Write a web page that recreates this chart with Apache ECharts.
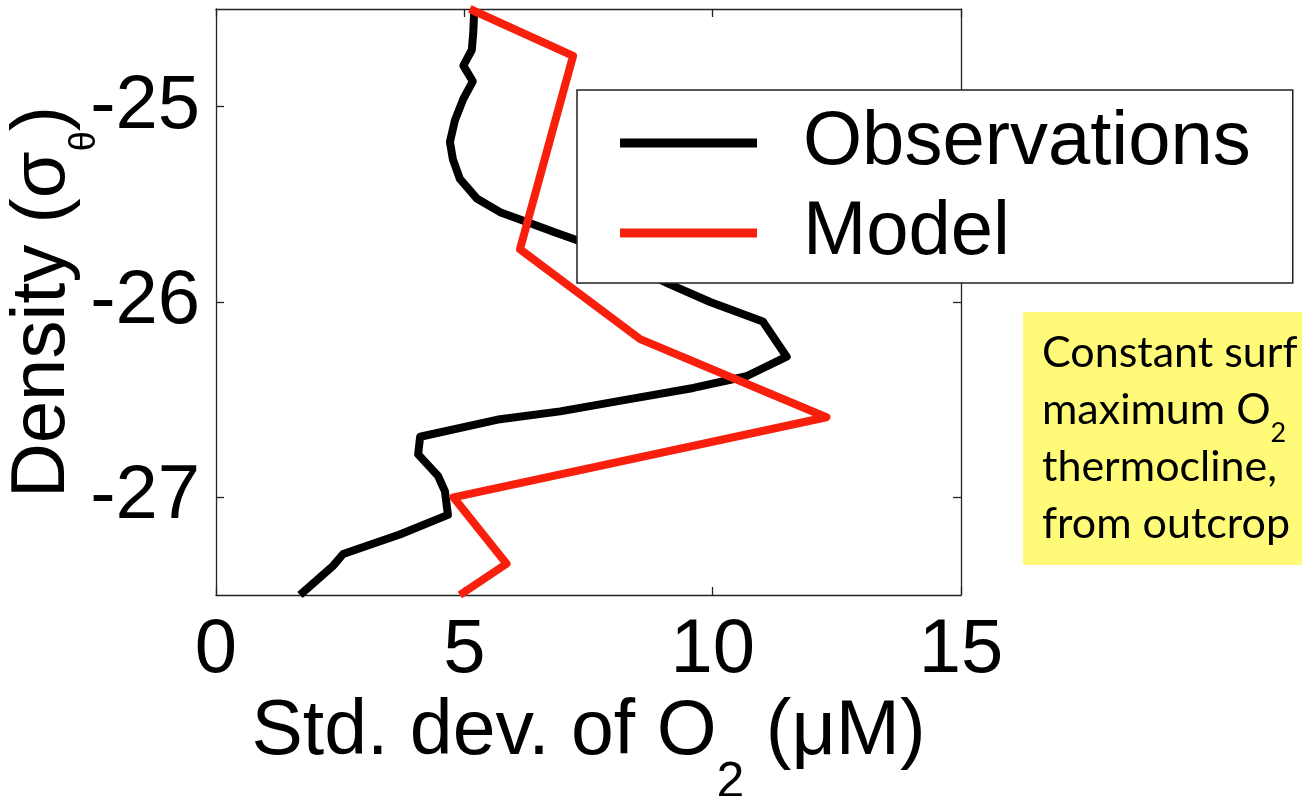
<!DOCTYPE html>
<html>
<head>
<meta charset="utf-8">
<script src="https://cdn.jsdelivr.net/npm/echarts@6/dist/echarts.min.js"></script>
<style>
  html, body { margin: 0; padding: 0; background: #fff; }
  #chart { width: 1302px; height: 796px; }
</style>
</head>
<body>
<div id="chart"></div>
<script>
// Std. dev. of O2 (µM) against potential density (sigma-theta)
const seriesNames = ['Observations', 'Model'];

// Observed profile: [std. dev. of O2, density]
const obsStd = [5.2, 5.18, 5.15, 4.98, 5.17, 4.98, 4.81, 4.71, 4.77, 4.91, 5.25, 5.72, 6.26, 6.79, 7.23,
  9.14, 9.95, 11.01, 11.49, 10.68, 9.61, 8.27, 6.93, 5.72, 4.11, 4.07, 4.47, 4.61, 4.67, 3.70, 2.56, 2.36, 1.69];
const obsDensity = [-24.5, -24.62, -24.71, -24.79, -24.87, -24.96, -25.07, -25.18, -25.27, -25.37, -25.47, -25.54, -25.59, -25.64, -25.68,
  -25.91, -26.0, -26.10, -26.28, -26.38, -26.44, -26.50, -26.56, -26.60, -26.69, -26.78, -26.89, -26.97, -27.09, -27.19, -27.29, -27.35, -27.5];

// Model profile
const modelStd = [5.11, 7.19, 6.12, 8.54, 12.29, 4.78, 5.85, 4.91];
const modelDensity = [-24.5, -24.74, -25.73, -26.19, -26.59, -27.0, -27.34, -27.5];

const xTicks = [0, 5, 10, 15];
const yTicks = [-27, -26, -25];

const noteLines = ['Constant surf', 'maximum O', 'thermocline,', 'from outcrop'];

const FONT = "'Liberation Sans', Arial, sans-serif";
const NOTE_FONT = "Lato, 'Open Sans', sans-serif";
const AXIS_COLOR = '#222';

const pair = (xs, ys) => xs.map((x, i) => [x, ys[i]]);

const axisLineStyle = { color: AXIS_COLOR, width: 1.3 };

const chart = echarts.init(document.getElementById('chart'), null, { renderer: 'canvas' });

chart.setOption({
  backgroundColor: '#fff',
  animation: false,
  grid: { left: 216, top: 9, width: 745, height: 586, containLabel: false, outerBoundsMode: 'none' },
  xAxis: [
    {
      type: 'value', position: 'bottom', min: 0, max: 15, interval: 5,
      axisLine: { show: true, onZero: false, lineStyle: axisLineStyle },
      axisTick: { show: true, inside: true, length: 8, lineStyle: axisLineStyle },
      axisLabel: { fontSize: 76, fontFamily: FONT, color: '#000', margin: 18,
        formatter: v => xTicks.includes(v) ? String(v) : '' },
      splitLine: { show: false },
      name: '{a|Std. dev. of O}{s|2}{a| (\u03bcM)}',
      nameLocation: 'middle', nameGap: 100,
      nameTextStyle: {
        rich: {
          a: { fontSize: 77, fontFamily: FONT, color: '#000', lineHeight: 80, padding: [0, 0, 37, 0], verticalAlign: 'bottom' },
          s: { fontSize: 50, fontFamily: FONT, color: '#000', lineHeight: 60, verticalAlign: 'bottom' }
        }
      }
    },
    {
      type: 'value', position: 'top', min: 0, max: 15, interval: 5,
      axisLine: { show: true, onZero: false, lineStyle: axisLineStyle },
      axisTick: { show: true, inside: true, length: 8, lineStyle: axisLineStyle },
      axisLabel: { show: false }, splitLine: { show: false }
    }
  ],
  yAxis: [
    {
      type: 'value', position: 'left', min: -27.5, max: -24.5,
      axisLine: { show: true, onZero: false, lineStyle: axisLineStyle },
      axisTick: { show: true, inside: true, length: 8, lineStyle: axisLineStyle, customValues: yTicks },
      axisLabel: { fontSize: 76, fontFamily: FONT, color: '#000', margin: 16, customValues: yTicks },
      splitLine: { show: false },
      name: '{a|Density (\u03c3}{s|\u03b8}{a|)}',
      nameLocation: 'middle', nameGap: 113, nameMoveOverlap: false,
      nameTextStyle: {
        rich: {
          a: { fontSize: 76, fontFamily: FONT, color: '#000', lineHeight: 80, padding: [0, 0, 22, 0], verticalAlign: 'bottom' },
          s: { fontSize: 36, fontFamily: FONT, color: '#000', lineHeight: 40, verticalAlign: 'bottom' }
        }
      }
    },
    {
      type: 'value', position: 'right', min: -27.5, max: -24.5,
      axisLine: { show: true, onZero: false, lineStyle: axisLineStyle },
      axisTick: { show: true, inside: true, length: 8, lineStyle: axisLineStyle, customValues: yTicks },
      axisLabel: { show: false }, splitLine: { show: false }
    }
  ],
  legend: {
    orient: 'vertical', left: 577, top: 90,
    data: seriesNames,
    icon: 'rect', itemWidth: 137, itemHeight: 9, itemGap: 0,
    padding: [8, 42, 5, 43],
    backgroundColor: '#fff', borderColor: AXIS_COLOR, borderWidth: 1.5,
    textStyle: { fontSize: 76, fontFamily: FONT, color: '#000', lineHeight: 90, padding: [0, 0, 0, 41] },
    selectedMode: false
  },
  series: [
    {
      name: seriesNames[0], type: 'line', xAxisIndex: 0, yAxisIndex: 0,
      data: pair(obsStd, obsDensity),
      showSymbol: false, color: '#000',
      lineStyle: { color: '#000', width: 8, join: 'round', cap: 'butt' }
    },
    {
      name: seriesNames[1], type: 'line', xAxisIndex: 0, yAxisIndex: 0,
      data: pair(modelStd, modelDensity),
      showSymbol: false, color: '#f8200c',
      lineStyle: { color: '#f8200c', width: 8, join: 'round', cap: 'butt' }
    }
  ],
  graphic: [
    {
      type: 'rect', left: 1023, top: 312, z: 10,
      shape: { width: 290, height: 253 },
      style: { fill: '#fffa78' }
    },
    {
      type: 'text', left: 1042, top: 332, z: 11,
      style: {
        text: '{m|' + noteLines[0] + '}\n{m|' + noteLines[1] + '}{s|2}\n{m|' + noteLines[2] + '}\n{m|' + noteLines[3] + '}',
        rich: {
          m: { fontSize: 43, fontFamily: NOTE_FONT, fill: '#000', lineHeight: 57, verticalAlign: 'top' },
          s: { fontSize: 27, fontFamily: NOTE_FONT, fill: '#000', lineHeight: 27, padding: [31, 0, 0, 0], verticalAlign: 'top' }
        }
      }
    }
  ]
});
</script>
</body>
</html>
